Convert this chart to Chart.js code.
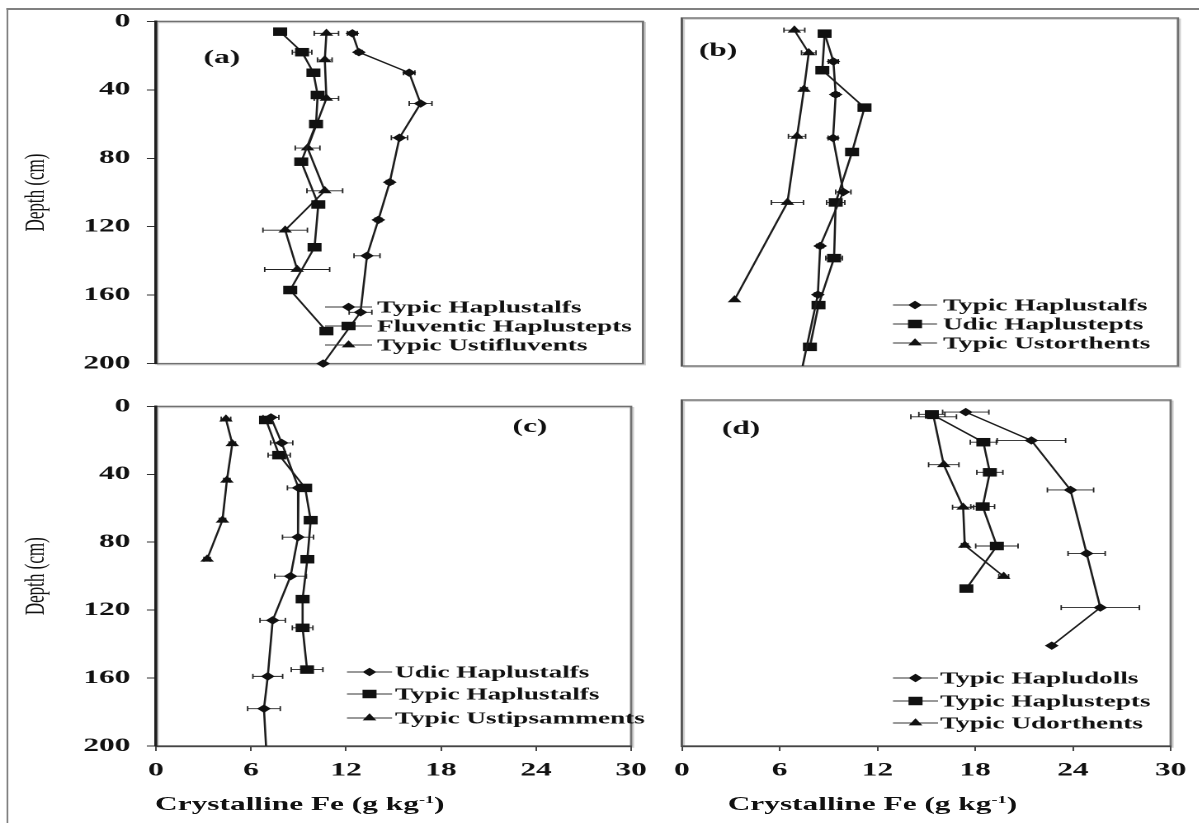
<!DOCTYPE html>
<html>
<head>
<meta charset="utf-8">
<script src="https://cdn.jsdelivr.net/npm/chart.js@4.4.1/dist/chart.umd.min.js"></script>
<style>
  html, body { margin: 0; padding: 0; background: #fff; }
  body { width: 1199px; height: 823px; overflow: hidden; position: relative; }
  /* the original figure is stretched sideways, so everything is laid out narrow and widened */
  #page { position: absolute; left: 0; top: 0; width: 727px; height: 823px; transform: scaleX(1.65); transform-origin: 0 0; }
  #page canvas { position: absolute; }
  .frame { position: absolute; left: 3.6px; top: 8px; width: 800px; height: 900px; border-top: 2px solid #808080; border-left: 1.6px solid #808080; }
  .xtitle { position: absolute; top: 794px; font: bold 19px "Liberation Serif", serif; white-space: nowrap; color: #111; line-height: 20px; }
  .xtitle sup { font-size: 11px; line-height: 0; }
</style>
</head>
<body>
<div id="page">
  <div class="frame"></div>
  <canvas id="panelA" width="400" height="385" style="left:0;top:0;width:400px;height:385px"></canvas>
  <canvas id="panelB" width="327" height="385" style="left:400px;top:0;width:327px;height:385px"></canvas>
  <canvas id="panelC" width="400" height="438" style="left:0;top:385px;width:400px;height:438px"></canvas>
  <canvas id="panelD" width="327" height="438" style="left:400px;top:385px;width:327px;height:438px"></canvas>
  <div class="xtitle" style="left:94px">Crystalline Fe (g kg<sup>-1</sup>)</div>
  <div class="xtitle" style="left:441px">Crystalline Fe (g kg<sup>-1</sup>)</div>
</div>
<script>
const depthTicks = [0, 40, 80, 120, 160, 200];
const feTicks = [0, 6, 12, 18, 24, 30];

// (a)
const seriesA = ['Typic Haplustalfs', 'Fluventic Haplustepts', 'Typic Ustifluvents'];
const depthA1 = [7, 18, 30, 48, 68, 94, 116, 137, 170, 200];
const feA1 = [12.1, 12.5, 15.6, 16.3, 15.0, 14.4, 13.7, 13.0, 12.6, 10.3];
const errA1 = [0.3, 0.2, 0.35, 0.7, 0.5, 0.2, 0.2, 0.8, 0.7, 0];
const depthA2 = [6, 18, 30, 43, 60, 82, 107, 132, 157, 181];
const feA2 = [7.65, 9.0, 9.7, 9.96, 9.86, 8.95, 10.0, 9.77, 8.27, 10.5];
const errA2 = [0.2, 0.6, 0.2, 0.2, 0.2, 0.2, 0.2, 0.2, 0.2, 0.2];
const depthA3 = [7, 22.5, 45, 74, 99, 122, 145];
const feA3 = [10.5, 10.4, 10.5, 9.34, 10.4, 7.96, 8.7];
const errA3 = [0.75, 0.45, 0.75, 0.76, 1.1, 1.37, 2.0];

// (b)
const seriesB = ['Typic Haplustalfs', 'Udic Haplustepts', 'Typic Ustorthents'];
const depthB1 = [9, 25, 44, 69, 100, 131, 159, 200];
const feB1 = [8.63, 9.16, 9.3, 9.14, 9.76, 8.36, 8.22, 7.3];
const errB1 = [0.2, 0.3, 0.2, 0.3, 0.46, 0.2, 0.2, 0];
const depthB2 = [9, 30, 51.5, 77, 106, 138, 165, 189];
const feB2 = [8.63, 8.49, 11.04, 10.29, 9.3, 9.2, 8.26, 7.74];
const errB2 = [0.25, 0.2, 0.2, 0.2, 0.55, 0.5, 0.2, 0.2];
const depthB3 = [7, 20, 41, 68, 106, 162];
const feB3 = [6.8, 7.67, 7.38, 6.96, 6.38, 3.18];
const errB3 = [0.63, 0.44, 0.2, 0.52, 0.97, 0];

// (c)
const seriesC = ['Udic Haplustalfs', 'Typic Haplustalfs', 'Typic Ustipsamments'];
const depthC1 = [6.5, 21.5, 48, 77, 100, 126, 159, 178, 200];
const feC1 = [7.26, 7.94, 9.0, 8.97, 8.5, 7.37, 7.06, 6.82, 6.95];
const errC1 = [0.5, 0.7, 0.7, 0.98, 1.0, 0.8, 0.94, 1.03, 0];
const depthC2 = [8, 28.7, 48, 67, 90, 113.5, 130.4, 155];
const feC2 = [6.95, 7.78, 9.42, 9.77, 9.56, 9.26, 9.26, 9.54];
const errC2 = [0.2, 0.7, 0.3, 0.2, 0.2, 0.2, 0.65, 1.0];
const depthC3 = [7.5, 22, 43.5, 67, 90];
const feC3 = [4.42, 4.82, 4.48, 4.2, 3.23];
const errC3 = [0.3, 0.2, 0.2, 0.2, 0.2];

// (d)
const seriesD = ['Typic Hapludolls', 'Typic Haplustepts', 'Typic Udorthents'];
const depthD1 = [7, 23.4, 52, 88.7, 120, 142];
const feD1 = [17.42, 21.45, 23.85, 24.84, 25.68, 22.7];
const errD1 = [1.42, 2.1, 1.42, 1.14, 2.4, 0];
const depthD2 = [8.3, 24.4, 41.8, 61.6, 84.4, 109];
const feD2 = [15.34, 18.5, 18.9, 18.46, 19.33, 17.46];
const errD2 = [0.8, 0.8, 0.8, 0.73, 1.3, 0.2];
const depthD3 = [9.7, 37.4, 62, 84, 102];
const feD3 = [15.45, 16.07, 17.26, 17.36, 19.75];
const errD3 = [1.4, 0.93, 0.65, 0.2, 0.3];

const ink = '#111';
const markerSize = { rectRot: 4.2, rect: 6, triangle: 4.8 };
const serif = 'Liberation Serif';
Chart.defaults.font.family = serif;

function drawMarker(ctx, style, x, y, r) {
    ctx.beginPath();
    if (style === 'rectRot') {
        ctx.moveTo(x - r, y); ctx.lineTo(x, y - r); ctx.lineTo(x + r, y); ctx.lineTo(x, y + r);
    } else if (style === 'rect') {
        const s = r * Math.SQRT1_2;
        ctx.rect(x - s, y - s, 2 * s, 2 * s);
    } else {
        ctx.moveTo(x, y - r); ctx.lineTo(x + r * 0.866, y + r * 0.5); ctx.lineTo(x - r * 0.866, y + r * 0.5);
    }
    ctx.closePath();
    ctx.fill();
}

// box round the plot area, drawn under the axes
const plotFrame = {
    id: 'plotFrame',
    beforeDraw(chart) {
        const { ctx, chartArea: a } = chart;
        ctx.save();
        ctx.strokeStyle = '#cfcfcf';
        ctx.lineWidth = 1.2;
        ctx.strokeRect(a.left + 1.2, a.top + 1.2, a.right - a.left, a.bottom - a.top);
        ctx.strokeStyle = '#707070';
        ctx.lineWidth = 1.4;
        ctx.strokeRect(a.left, a.top, a.right - a.left, a.bottom - a.top);
        ctx.restore();
    }
};

// horizontal error bars, one value per point
const errorBars = {
    id: 'errorBars',
    beforeDatasetsDraw(chart) {
        const { ctx, scales: { x, y } } = chart;
        ctx.save();
        ctx.strokeStyle = '#222';
        ctx.lineWidth = 0.9;
        chart.data.datasets.forEach(ds => {
            ds.data.forEach((p, i) => {
                const e = ds.errors[i];
                if (!e) return;
                const py = y.getPixelForValue(p.y);
                const x1 = x.getPixelForValue(p.x - e);
                const x2 = x.getPixelForValue(p.x + e);
                ctx.beginPath();
                ctx.moveTo(x1, py); ctx.lineTo(x2, py);
                ctx.moveTo(x1, py - 2.5); ctx.lineTo(x1, py + 2.5);
                ctx.moveTo(x2, py - 2.5); ctx.lineTo(x2, py + 2.5);
                ctx.stroke();
            });
        });
        ctx.restore();
    }
};

// panel tag and the little legend inside the plot
const panelDecor = {
    id: 'panelDecor',
    afterDraw(chart, args, opts) {
        const ctx = chart.ctx;
        ctx.save();
        ctx.fillStyle = ink;
        ctx.font = `bold 19px "${serif}"`;
        ctx.textAlign = 'center';
        ctx.textBaseline = 'middle';
        ctx.fillText(opts.tag, opts.tagX, opts.tagY);
        ctx.font = `bold 16.5px "${serif}"`;
        ctx.textAlign = 'left';
        chart.data.datasets.forEach((ds, i) => {
            const ly = opts.rows[i];
            ctx.strokeStyle = '#333';
            ctx.lineWidth = 1;
            ctx.beginPath();
            ctx.moveTo(opts.lineX1, ly);
            ctx.lineTo(opts.lineX2, ly);
            ctx.stroke();
            drawMarker(ctx, ds.pointStyle, (opts.lineX1 + opts.lineX2) / 2, ly, markerSize[ds.pointStyle]);
            ctx.fillText(ds.label, opts.textX, ly + 1);
        });
        ctx.restore();
    }
};

function series(label, style, fe, depth, errors, hideLast) {
    const r = markerSize[style];
    return {
        label: label,
        data: depth.map((d, i) => ({ x: fe[i], y: d })),
        errors: errors,
        showLine: true,
        borderColor: '#1c1c1c',
        borderWidth: 1.3,
        backgroundColor: ink,
        pointStyle: style,
        pointRadius: hideLast ? depth.map((d, i) => (i === depth.length - 1 ? 0 : r)) : r,
        pointBorderWidth: 0,
        clip: false
    };
}

function buildPanel(id, datasets, cfg) {
    const tickFont = { family: serif, size: 19, weight: 'bold' };
    new Chart(document.getElementById(id), {
        type: 'scatter',
        data: { datasets: datasets },
        options: {
            responsive: false,
            animation: false,
            devicePixelRatio: 2,
            layout: { padding: cfg.padding },
            scales: {
                x: {
                    type: 'linear',
                    min: feTicks[0],
                    max: feTicks[feTicks.length - 1],
                    afterBuildTicks: s => { s.ticks = feTicks.map(v => ({ value: v })); },
                    ticks: { display: cfg.xLabels, font: tickFont, color: ink, padding: 8, maxRotation: 0 },
                    grid: { display: cfg.xLabels, drawOnChartArea: false, drawTicks: true, tickLength: 5, color: '#444' },
                    border: { display: cfg.xLabels, color: '#444', width: 1.5 },
                    afterFit: s => { s.height = cfg.xLabels ? 40 : 0; }
                },
                y: {
                    type: 'linear',
                    reverse: true,
                    min: depthTicks[0],
                    max: depthTicks[depthTicks.length - 1],
                    afterBuildTicks: s => { s.ticks = depthTicks.map(v => ({ value: v })); },
                    ticks: { display: cfg.yLabels, font: tickFont, color: ink, padding: 10 },
                    grid: { display: cfg.yLabels, drawOnChartArea: false, drawTicks: true, tickLength: 5.5, color: '#333' },
                    border: { display: true, color: cfg.yLabels ? '#1e1e1e' : '#555', width: cfg.yLabels ? 1.8 : 1.2 },
                    title: {
                        display: cfg.yLabels,
                        text: 'Depth (cm)',
                        font: { family: serif, size: 17 },
                        color: ink,
                        padding: { top: 12, bottom: 0 }
                    },
                    afterFit: s => { s.width = cfg.yWidth; }
                }
            },
            plugins: {
                legend: { display: false },
                tooltip: { enabled: false },
                panelDecor: cfg.decor
            }
        },
        plugins: [plotFrame, errorBars, panelDecor]
    });
}

buildPanel('panelA', [
    series(seriesA[0], 'rectRot', feA1, depthA1, errA1, false),
    series(seriesA[1], 'rect', feA2, depthA2, errA2, false),
    series(seriesA[2], 'triangle', feA3, depthA3, errA3, false)
], {
    padding: { left: 0, top: 18, right: 10.3, bottom: 19 },
    xLabels: false, yLabels: true, yWidth: 94.5,
    decor: { tag: '(a)', tagX: 134.5, tagY: 58, rows: [307, 326, 345], lineX1: 197, lineX2: 225.5, textX: 228.5 }
});

buildPanel('panelB', [
    series(seriesB[0], 'rectRot', feB1, depthB1, errB1, true),
    series(seriesB[1], 'rect', feB2, depthB2, errB2, false),
    series(seriesB[2], 'triangle', feB3, depthB3, errB3, false)
], {
    padding: { left: 0, top: 18, right: 13.1, bottom: 19 },
    xLabels: false, yLabels: false, yWidth: 13.3,
    decor: { tag: '(b)', tagX: 35.2, tagY: 51, rows: [305, 324, 343], lineX1: 141.2, lineX2: 167.9, textX: 171.5 }
});

buildPanel('panelC', [
    series(seriesC[0], 'rectRot', feC1, depthC1, errC1, true),
    series(seriesC[1], 'rect', feC2, depthC2, errC2, false),
    series(seriesC[2], 'triangle', feC3, depthC3, errC3, false)
], {
    padding: { left: 0, top: 14.5, right: 10.3, bottom: 37 },
    xLabels: true, yLabels: true, yWidth: 94.5,
    decor: { tag: '(c)', tagX: 321.2, tagY: 42, rows: [287, 309, 333], lineX1: 210.3, lineX2: 237.6, textX: 239.4 }
});

buildPanel('panelD', [
    series(seriesD[0], 'rectRot', feD1, depthD1, errD1, false),
    series(seriesD[1], 'rect', feD2, depthD2, errD2, false),
    series(seriesD[2], 'triangle', feD3, depthD3, errD3, false)
], {
    padding: { left: 0, top: 15, right: 13.1, bottom: 37 },
    xLabels: true, yLabels: false, yWidth: 13.3,
    decor: { tag: '(d)', tagX: 49.1, tagY: 44, rows: [293, 316, 338], lineX1: 141.2, lineX2: 168.5, textX: 169.7 }
});
</script>
</body>
</html>
